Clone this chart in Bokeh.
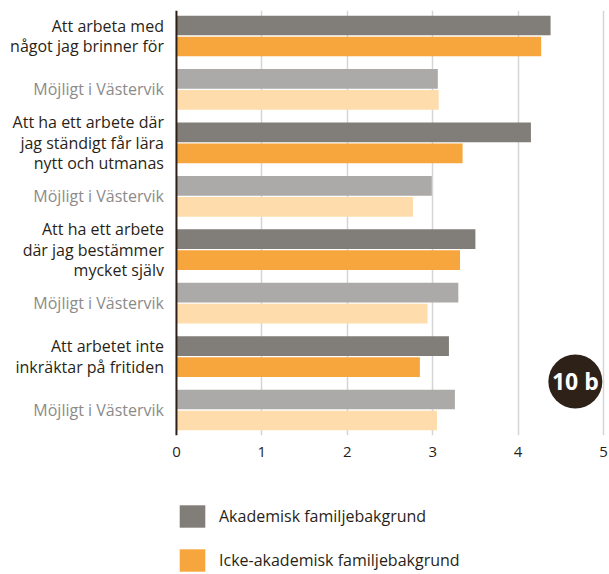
from bokeh.plotting import figure
from bokeh.layouts import column
from bokeh.models import (ColumnDataSource, FactorRange, LabelSet, Span, Legend,
                          LegendItem, FixedTicker, Range1d)
from bokeh.transform import dodge
from bokeh.core.properties import value
from bokeh.embed import file_html
from bokeh.resources import INLINE

# ---- data ----
row_labels = [
    "Att arbeta med\nnågot jag brinner för",
    "Möjligt i Västervik",
    "Att ha ett arbete där\njag ständigt får lära\nnytt och utmanas",
    "Möjligt i Västervik",
    "Att ha ett arbete\ndär jag bestämmer\nmycket själv",
    "Möjligt i Västervik",
    "Att arbetet inte\ninkräktar på fritiden",
    "Möjligt i Västervik",
]
is_possible = [False, True, False, True, False, True, False, True]
akademisk = [4.38, 3.06, 4.15, 2.99, 3.50, 3.30, 3.19, 3.26]
icke_akademisk = [4.27, 3.07, 3.35, 2.77, 3.32, 2.94, 2.85, 3.05]
x_ticks = [0, 1, 2, 3, 4, 5]
grid_ticks = [1, 2, 3, 4, 5]
legend_labels = ["Akademisk familjebakgrund", "Icke-akademisk familjebakgrund"]
badge_text = "10 b"

# ---- styles ----
DARK = "#817d79"
ORANGE = "#f7a63d"
DARK_LIGHT = "#abaaa8"
ORANGE_LIGHT = "#fedcac"
TEXT = "#2a1f17"
TEXT_GREY = "#8c8b8a"
FONT = "Open Sans"
LINE_STEP = 20.5

keys = [f"r{i + 1}" for i in range(len(row_labels))]
factors = []
for k in reversed(keys):
    factors += [(k, "b"), (k, "a")]

y_range = FactorRange(*factors, factor_padding=0.05, group_padding=0.62,
                      range_padding=0.25, range_padding_units="absolute")
x_range = Range1d(-2.06, 5.07)

p = figure(width=609, height=470, x_range=x_range, y_range=y_range,
           output_backend="svg", toolbar_location=None,
           min_border_left=0, min_border_right=0, min_border_top=10,
           min_border_bottom=35, y_axis_location=None,
           outline_line_color=None, background_fill_color="white",
           border_fill_color="white")

colors_a = [DARK_LIGHT if s else DARK for s in is_possible]
colors_b = [ORANGE_LIGHT if s else ORANGE for s in is_possible]

src_a = ColumnDataSource(dict(y=[(k, "a") for k in keys], v=akademisk, c=colors_a))
src_b = ColumnDataSource(dict(y=[(k, "b") for k in keys], v=icke_akademisk, c=colors_b))

p.hbar(y="y", left=0, right="v", height=0.985, fill_color="c",
       line_color=None, source=src_a)
p.hbar(y="y", left=0, right="v", height=0.985, fill_color="c",
       line_color=None, source=src_b)

# axes / grid
p.xaxis.ticker = FixedTicker(ticks=x_ticks)
p.xaxis.axis_line_color = None
p.xaxis.major_tick_line_color = None
p.xaxis.minor_tick_line_color = None
p.xaxis.major_tick_in = 0
p.xaxis.major_tick_out = 0
p.xaxis.major_label_standoff = 11
p.xaxis.major_label_text_font = FONT
p.xaxis.major_label_text_font_size = "15px"
p.xaxis.major_label_text_color = TEXT

p.xgrid.ticker = FixedTicker(ticks=grid_ticks)
p.xgrid.grid_line_color = "#d5d5d5"
p.xgrid.grid_line_width = 1.5
p.ygrid.grid_line_color = None

p.add_layout(Span(location=0, dimension="height", line_color="#2b1f17", line_width=2))

# row labels: one label per line, each right-aligned
lx, ly, lt, lc, lo = [], [], [], [], []
for k, lab, sub in zip(keys, row_labels, is_possible):
    lines = lab.split("\n")
    n = len(lines)
    for j, line in enumerate(lines):
        lx.append(0)
        ly.append(k)
        lt.append(line)
        lc.append(TEXT_GREY if sub else TEXT)
        lo.append(((n - 1) / 2 - j) * LINE_STEP)
lab_src = ColumnDataSource(dict(x=lx, y=ly, text=lt, color=lc, off=lo))
p.add_layout(LabelSet(x="x", y="y", text="text", source=lab_src, x_offset=-12.5,
                      y_offset="off", text_align="right", text_baseline="middle",
                      text_color="color", text_font=value(FONT),
                      text_font_size="16px"))

# badge
badge_src = ColumnDataSource(dict(x=[4.67], key=[(keys[-1], "a")], t=[badge_text]))
p.scatter(x="x", y=dodge("key", 0.9, range=p.y_range), size=54,
          fill_color="#2e2118", line_color=None, source=badge_src)
p.text(x="x", y=dodge("key", 0.9, range=p.y_range), text="t", source=badge_src,
       text_align="center", text_baseline="middle", text_color="white",
       text_font=value(FONT), text_font_style="bold", text_font_size="23px")

# legend (separate strip below the chart, same scales, hidden renderers)
pl = figure(width=609, height=104, x_range=x_range, y_range=y_range,
            output_backend="svg", toolbar_location=None,
            min_border_left=0, min_border_right=0, min_border_top=0,
            min_border_bottom=0, x_axis_location=None, y_axis_location=None,
            outline_line_color=None, border_fill_color="white",
            background_fill_color="white")
pl.grid.visible = False
la = pl.hbar(y="y", left=0, right="v", height=0.985, fill_color="c",
             line_color=None, source=src_a, visible=False)
lb = pl.hbar(y="y", left=0, right="v", height=0.985, fill_color="c",
             line_color=None, source=src_b, visible=False)
legend = Legend(items=[LegendItem(label=legend_labels[0], renderers=[la], index=0),
                       LegendItem(label=legend_labels[1], renderers=[lb], index=0)],
                location=(176, 0), orientation="vertical",
                glyph_width=32, glyph_height=28, spacing=16, label_standoff=11,
                padding=0, margin=0, border_line_color=None,
                background_fill_alpha=0, inactive_fill_alpha=0,
                label_text_font=FONT, label_text_font_size="16px",
                label_text_color=TEXT, label_height=28)
pl.add_layout(legend)

open("out.html", "w").write(file_html(column(p, pl, spacing=0), INLINE))
